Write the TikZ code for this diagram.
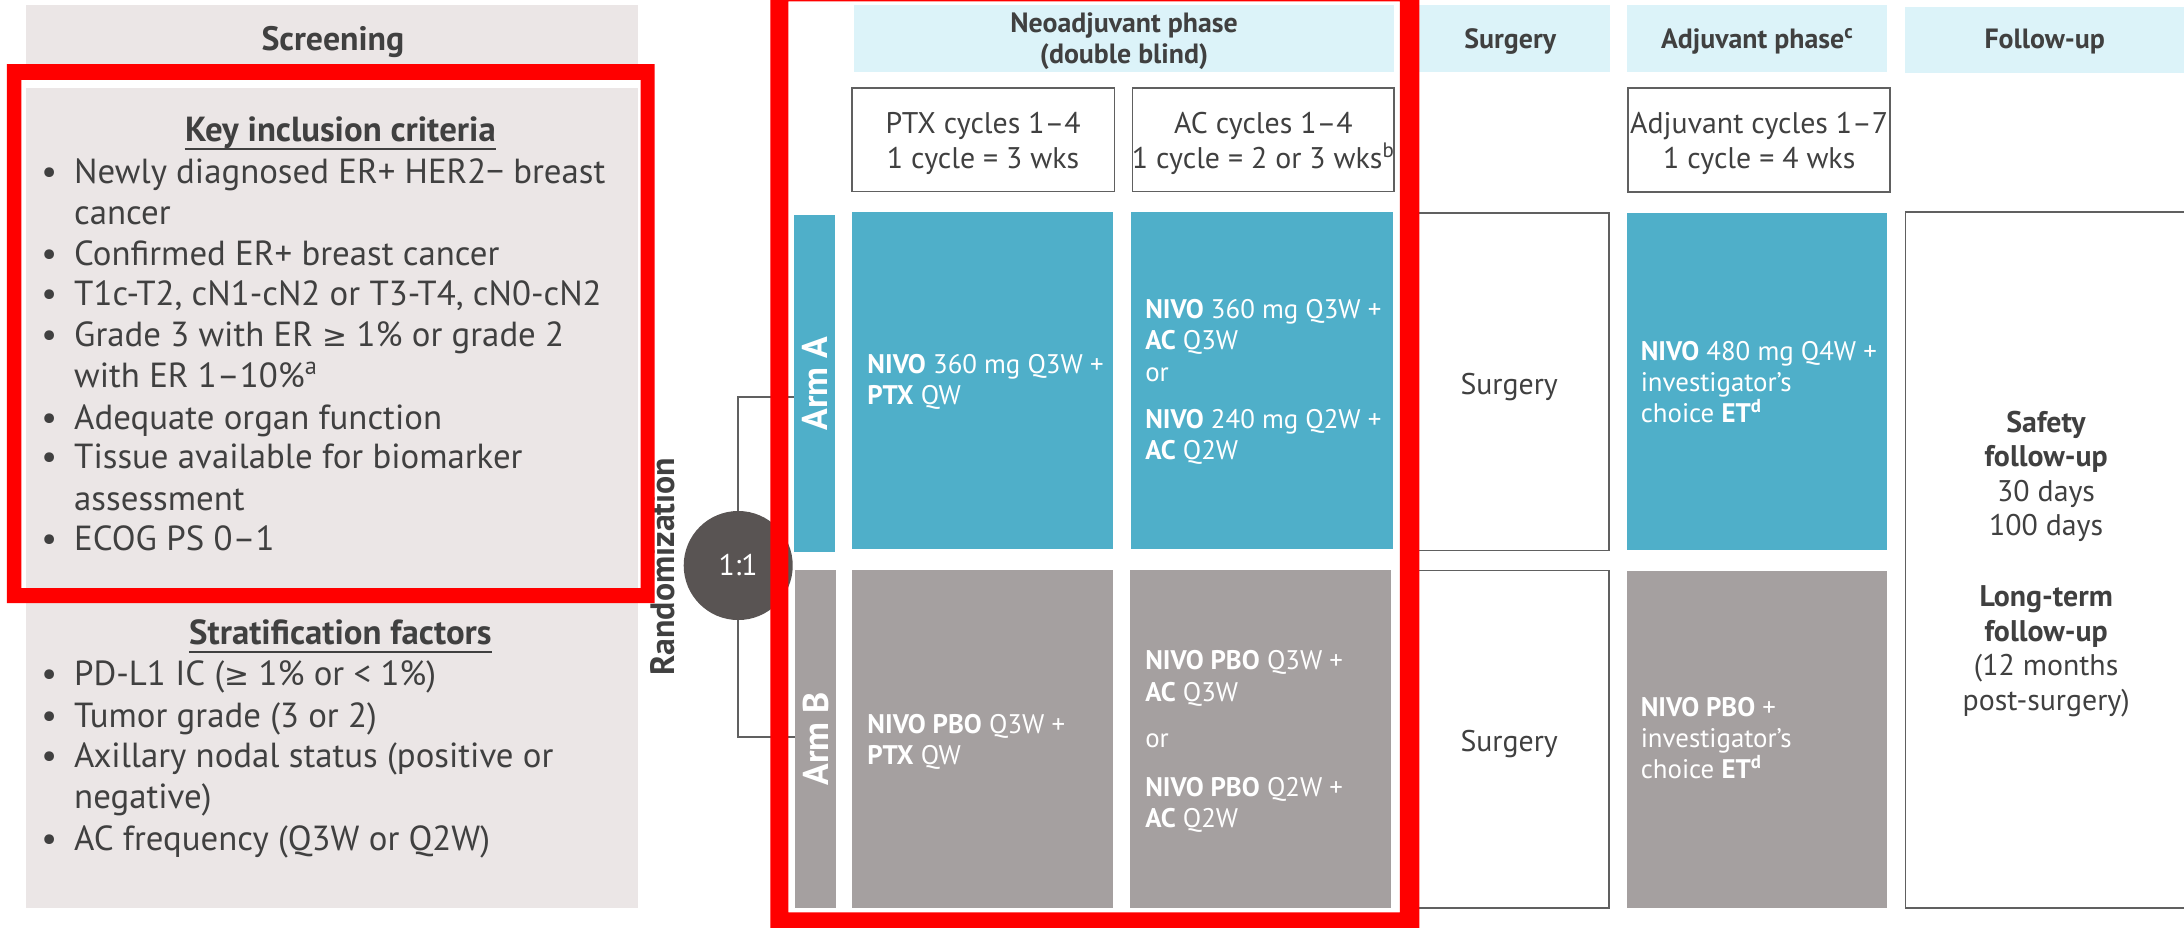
\documentclass[tikz,border=0pt]{standalone}
\usepackage{fontspec}
\setmainfont{PT Sans}
\newfontfamily\symfont{DejaVu Sans}
% upright greater-or-equal sign
\newcommand\gesym{{\symfont\fontsize{15}{20}\selectfont ≥}}

\definecolor{scrgray}{HTML}{EBE6E6}
\definecolor{hdrcyan}{HTML}{DCF3F9}
\definecolor{armblue}{HTML}{4FAFC9}
\definecolor{armgray}{HTML}{A5A0A0}
\definecolor{circgray}{HTML}{595453}
\definecolor{txtdark}{HTML}{404040}
\definecolor{edgegray}{HTML}{606060}
\definecolor{hlred}{HTML}{FF0000}

% box node from its top-left and bottom-right corners
\newcommand\mkbox[6]{%
  \node[#2, minimum width={((#5)-(#3))*0.7pt}, minimum height={((#6)-(#4))*0.7pt}] (#1) at (#3,#4) {};}
% one line of text, left aligned / centred on its baseline
\newcommand\putl[5]{\node[#2, anchor=base west] (#1) at (#3,#4) {#5};}
\newcommand\putc[5]{\node[#2, anchor=base] (#1) at (#3,#4) {#5};}

\tikzset{
  bx/.style={inner sep=0pt, outer sep=0pt, anchor=north west},
  scrbox/.style={bx, fill=scrgray},
  hdrbox/.style={bx, fill=hdrcyan},
  framebox/.style={bx, draw=edgegray, line width=0.8pt, fill=white},
  bluebox/.style={bx, fill=armblue},
  greybox/.style={bx, fill=armgray},
  txt/.style={inner sep=0pt, text=txtdark},
  bultxt/.style={txt, font=\fontsize{17.5}{20}\selectfont},
  sechead/.style={txt, font=\bfseries\fontsize{17.5}{20}\selectfont},
  colhead/.style={txt, font=\bfseries\fontsize{14}{17}\selectfont},
  cyctxt/.style={txt, font=\fontsize{15}{18}\selectfont},
  armtxt/.style={inner sep=0pt, text=white, font=\fontsize{13.5}{16}\selectfont},
  armlabel/.style={inner sep=0pt, text=white, rotate=90, font=\bfseries\fontsize{18}{20}\selectfont},
  fuptxt/.style={txt, font=\fontsize{15}{18}\selectfont},
  conn/.style={draw=edgegray, line width=1.1pt},
  hl/.style={fill=hlred, even odd rule},
}

\begin{document}
\begin{tikzpicture}[x=0.7pt, y=-0.7pt]
\clip (0,0) rectangle (1568,666);
\useasboundingbox (0,0) rectangle (1568,666);

% ---------- screening column ----------
\mkbox{scrHead}{scrbox}{19}{3.6}{458}{57}
\mkbox{scrBody}{scrbox}{19}{63.2}{458}{651.6}
\putc{scrT}{txt, font=\bfseries\fontsize{17}{20}\selectfont}{239}{36.4}{Screening}

\putc{kicT}{sechead}{244.4}{101.7}{Key inclusion criteria}
\draw[txtdark, line width=1pt] ([yshift=-3.8pt]kicT.base west) -- ([yshift=-3.8pt]kicT.base east);

\foreach \yy/\nm in {132/b1, 190.5/b3, 219.5/b4, 249/b5, 308/b7, 336.5/b8, 395/b10, 492/c1, 522/c2, 551/c3, 610.5/c5}{
  \putl{\nm}{bultxt}{29.5}{\yy}{\textbullet}
}

\putl{i1}{bultxt}{53}{132}{Newly diagnosed ER+ HER2− breast}
\putl{i2}{bultxt}{53}{161.5}{cancer}
\putl{i3}{bultxt}{53}{190.5}{Confirmed ER+ breast cancer}
\putl{i4}{bultxt}{53}{219.5}{T1c-T2, cN1-cN2 or T3-T4, cN0-cN2}
\putl{i5}{bultxt}{53}{249}{Grade 3 with ER \gesym{} 1\% or grade 2}
\putl{i6}{bultxt}{53}{278}{with ER 1–10\%\textsuperscript{a}}
\putl{i7}{bultxt}{53}{308}{Adequate organ function}
\putl{i8}{bultxt}{53}{336.5}{Tissue available for biomarker}
\putl{i9}{bultxt}{53}{366.5}{assessment}
\putl{i10}{bultxt}{53}{395}{ECOG PS 0–1}

\putc{sfT}{sechead}{244.4}{463}{Stratification factors}
\draw[txtdark, line width=1pt] ([yshift=-3.8pt]sfT.base west) -- ([yshift=-3.8pt]sfT.base east);
\putl{s1}{bultxt}{53}{492}{PD-L1 IC (\gesym{} 1\% or < 1\%)}
\putl{s2}{bultxt}{53}{522}{Tumor grade (3 or 2)}
\putl{s3}{bultxt}{53}{551}{Axillary nodal status (positive or}
\putl{s4}{bultxt}{53}{580.5}{negative)}
\putl{s5}{bultxt}{53}{610.5}{AC frequency (Q3W or Q2W)}

\putc{randT}{txt, rotate=90, font=\bfseries\fontsize{17}{20}\selectfont}{484}{406.8}{Randomization}

% ---------- column headers ----------
\mkbox{neoH}{hdrbox}{613}{3.6}{1001}{51.5}
\mkbox{surgH}{hdrbox}{1012}{3.6}{1156}{51.5}
\mkbox{adjH}{hdrbox}{1168.4}{3.6}{1355}{51.5}
\mkbox{fuH}{hdrbox}{1368}{4.8}{1575}{52.6}
\putc{neoT1}{colhead}{807}{23.2}{Neoadjuvant phase}
\putc{neoT2}{colhead}{807}{45.5}{(double blind)}
\putc{surgHT}{colhead}{1084.3}{35}{Surgery}
\putc{adjHT}{colhead}{1261.7}{35}{Adjuvant phase\textsuperscript{c}}
\putc{fuHT}{colhead}{1468}{35}{Follow-up}

% ---------- cycle boxes ----------
\mkbox{ptxC}{framebox}{611.5}{63}{800}{137.6}
\mkbox{acC}{framebox}{813}{63}{1001}{137.6}
\mkbox{adjC}{framebox}{1169}{63}{1357}{138}
\putc{ptxT1}{cyctxt}{705.8}{95.7}{PTX cycles 1–4}
\putc{ptxT2}{cyctxt}{705.8}{120.8}{1 cycle = 3 wks}
\putc{acT1}{cyctxt}{907}{95.7}{AC cycles 1–4}
\putc{acT2}{cyctxt}{907}{120.8}{1 cycle = 2 or 3 wks\textsuperscript{b}}
\putc{adjT1}{cyctxt}{1263}{95.7}{Adjuvant cycles 1–7}
\putc{adjT2}{cyctxt}{1263}{120.8}{1 cycle = 4 wks}

% ---------- arm A ----------
\mkbox{armA}{bluebox}{570}{154.3}{599.4}{396.5}
\mkbox{aPTX}{bluebox}{612}{152}{799.4}{394.4}
\mkbox{aAC}{bluebox}{812}{152}{1000}{394.4}
\mkbox{surgA}{framebox}{1012}{153}{1155}{395.2}
\mkbox{adjA}{bluebox}{1168}{153}{1355}{395.2}
\node[armlabel] (armAT) at (584.7,275.4) {Arm A};
\putl{aP1}{armtxt}{622.5}{267.8}{\textbf{NIVO} 360 mg Q3W +}
\putl{aP2}{armtxt}{622.5}{290.6}{\textbf{PTX} QW}
\putl{aA1}{armtxt}{822}{228.3}{\textbf{NIVO} 360 mg Q3W +}
\putl{aA2}{armtxt}{822}{251.1}{\textbf{AC} Q3W}
\putl{aA3}{armtxt}{822}{273.9}{or}
\putl{aA4}{armtxt}{822}{307.8}{\textbf{NIVO} 240 mg Q2W +}
\putl{aA5}{armtxt}{822}{330.1}{\textbf{AC} Q2W}
\putc{surgAT}{cyctxt}{1083.5}{283}{Surgery}
\putl{aJ1}{armtxt}{1177.7}{258.7}{\textbf{NIVO} 480 mg Q4W +}
\putl{aJ2}{armtxt}{1177.7}{281}{investigator’s}
\putl{aJ3}{armtxt}{1177.7}{303.3}{choice \textbf{ET}\textsuperscript{\textbf{d}}}

% ---------- arm B ----------
\mkbox{armB}{greybox}{571}{409}{600.5}{652}
\mkbox{bPTX}{greybox}{612}{409}{799}{652}
\mkbox{bAC}{greybox}{811}{409}{999}{652}
\mkbox{surgB}{framebox}{1012}{409.6}{1155}{652}
\mkbox{adjB}{greybox}{1168}{409.6}{1355}{652}
\node[armlabel] (armBT) at (585.5,530.5) {Arm B};
\putl{bP1}{armtxt}{622.5}{526.3}{\textbf{NIVO PBO} Q3W +}
\putl{bP2}{armtxt}{622.5}{549}{\textbf{PTX} QW}
\putl{bA1}{armtxt}{822}{480.8}{\textbf{NIVO PBO} Q3W +}
\putl{bA2}{armtxt}{822}{503.5}{\textbf{AC} Q3W}
\putl{bA3}{armtxt}{822}{537}{or}
\putl{bA4}{armtxt}{822}{571.8}{\textbf{NIVO PBO} Q2W +}
\putl{bA5}{armtxt}{822}{594}{\textbf{AC} Q2W}
\putc{surgBT}{cyctxt}{1083.5}{539.5}{Surgery}
\putl{bJ1}{armtxt}{1177.7}{514.4}{\textbf{NIVO PBO} +}
\putl{bJ2}{armtxt}{1177.7}{536.7}{investigator’s}
\putl{bJ3}{armtxt}{1177.7}{559}{choice \textbf{ET}\textsuperscript{\textbf{d}}}

% ---------- follow-up ----------
\mkbox{fuBox}{framebox}{1368}{152}{1575}{652}
\putc{fu1}{fuptxt}{1469}{310.3}{\textbf{Safety}}
\putc{fu2}{fuptxt}{1469}{335.2}{\textbf{follow-up}}
\putc{fu3}{fuptxt}{1469}{360}{30 days}
\putc{fu4}{fuptxt}{1469}{384.8}{100 days}
\putc{fu5}{fuptxt}{1469}{435.5}{\textbf{Long-term}}
\putc{fu6}{fuptxt}{1469}{460.4}{\textbf{follow-up}}
\putc{fu7}{fuptxt}{1469}{485.2}{(12 months}
\putc{fu8}{fuptxt}{1469}{510}{post-surgery)}

% ---------- randomisation ----------
\node[circle, fill=circgray, minimum size=54.8pt, inner sep=0pt, text=white,
      font=\fontsize{15}{18}\selectfont] (rnd) at (530,406) {1:1};
\coordinate (tA) at (570,285.2);
\coordinate (tB) at (571,528.9);
\draw[conn] (rnd.north) |- (tA);
\draw[conn] (rnd.south) |- (tB);

% ---------- highlight frames ----------
\fill[hl] (5,46) rectangle (470,433) (15.4,57.4) rectangle (460,422.3);
\fill[hl] (553,-12) rectangle (1019,670) (566,1) rectangle (1005,655);
\end{tikzpicture}
\end{document}
